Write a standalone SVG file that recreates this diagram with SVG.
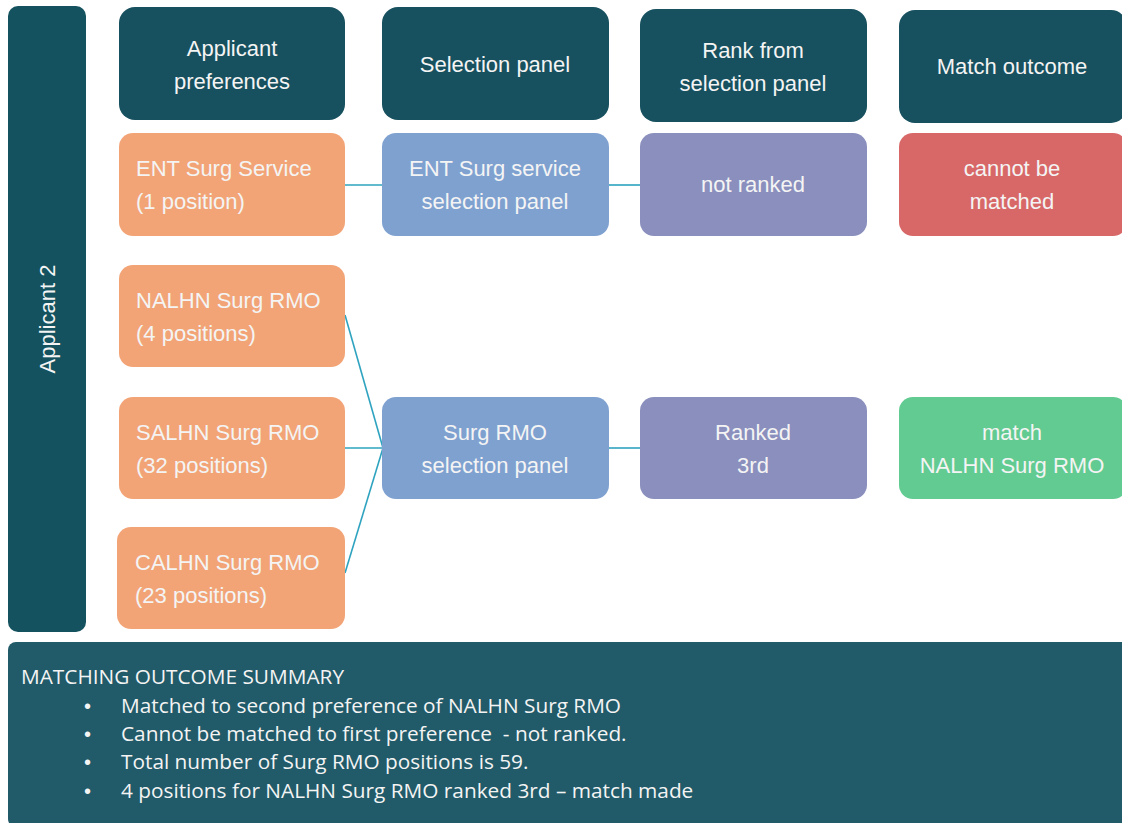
<svg xmlns="http://www.w3.org/2000/svg" width="1122" height="823" viewBox="0 0 1122 823">
<style>
text{font-family:"Liberation Sans","DejaVu Sans",sans-serif;fill:#f4f4f4;font-size:22px}
.c{text-anchor:middle}
.hdr{fill:#17505e}
.org{fill:#f2a477}
.blu{fill:#7fa1d0}
.pur{fill:#8a8fbd}
.red{fill:#d86868}
.grn{fill:#62cb91}
.sum{font-family:"Open Sans","Liberation Sans",sans-serif;font-size:20.8px}
.bul{font-family:"Liberation Sans",sans-serif;font-size:20px}
.conn line{stroke:#2ea3bf;stroke-width:1.6}
</style>
<rect width="1122" height="823" fill="#ffffff"/>
<g id="applicant2">
<rect x="8" y="6" width="78" height="626" rx="10" fill="#13525e"/>
<text transform="translate(55,319) rotate(-90)" class="c">Applicant 2</text>
</g>
<g class="conn" id="connectors">
<line x1="345" y1="185" x2="382" y2="185"/>
<line x1="609" y1="185" x2="640" y2="185"/>
<line x1="345" y1="315" x2="383" y2="448"/>
<line x1="345" y1="448" x2="383" y2="448"/>
<line x1="345" y1="573" x2="383" y2="448"/>
<line x1="609" y1="448" x2="640" y2="448"/>
</g>
<g id="h1"><rect class="hdr" x="119" y="7" width="226" height="113" rx="16"/>
<text class="c" x="232" y="56">Applicant</text><text class="c" x="232" y="89">preferences</text></g>
<g id="h2"><rect class="hdr" x="382" y="7" width="227" height="113" rx="16"/>
<text class="c" x="495" y="72">Selection panel</text></g>
<g id="h3"><rect class="hdr" x="640" y="9" width="227" height="113" rx="16"/>
<text class="c" x="753" y="58">Rank from</text><text class="c" x="753" y="91">selection panel</text></g>
<g id="h4"><rect class="hdr" x="899" y="10" width="228" height="113" rx="16"/>
<text class="c" x="1012" y="74">Match outcome</text></g>
<g id="ent"><rect class="org" x="119" y="133" width="226" height="103" rx="14"/>
<text x="136" y="176">ENT Surg Service</text><text x="136" y="209">(1 position)</text></g>
<g id="entpanel"><rect class="blu" x="382" y="133" width="227" height="103" rx="14"/>
<text class="c" x="495" y="176">ENT Surg service</text><text class="c" x="495" y="209">selection panel</text></g>
<g id="notranked"><rect class="pur" x="640" y="133" width="227" height="103" rx="14"/>
<text class="c" x="753" y="192">not ranked</text></g>
<g id="cannot"><rect class="red" x="899" y="133" width="228" height="103" rx="14"/>
<text class="c" x="1012" y="176">cannot be</text><text class="c" x="1012" y="209">matched</text></g>
<g id="nalhn"><rect class="org" x="119" y="265" width="226" height="102" rx="14"/>
<text x="136" y="308">NALHN Surg RMO</text><text x="136" y="341">(4 positions)</text></g>
<g id="salhn"><rect class="org" x="119" y="397" width="226" height="102" rx="14"/>
<text x="136" y="440">SALHN Surg RMO</text><text x="136" y="473">(32 positions)</text></g>
<g id="calhn"><rect class="org" x="117" y="527" width="228" height="102" rx="14"/>
<text x="135" y="570">CALHN Surg RMO</text><text x="135" y="603">(23 positions)</text></g>
<g id="rmopanel"><rect class="blu" x="382" y="397" width="227" height="102" rx="14"/>
<text class="c" x="495" y="440">Surg RMO</text><text class="c" x="495" y="473">selection panel</text></g>
<g id="ranked"><rect class="pur" x="640" y="397" width="227" height="102" rx="14"/>
<text class="c" x="753" y="440">Ranked</text><text class="c" x="753" y="473">3rd</text></g>
<g id="match"><rect class="grn" x="899" y="397" width="228" height="102" rx="14"/>
<text class="c" x="1012" y="440">match</text><text class="c" x="1012" y="473">NALHN Surg RMO</text></g>
<g id="summary">
<rect x="8" y="642" width="1122" height="185" rx="8" fill="#215a68"/>
<text class="sum" x="21" y="684">MATCHING OUTCOME SUMMARY</text>
<text class="bul" x="84" y="713">•</text><text class="sum" x="121" y="713">Matched to second preference of NALHN Surg RMO</text>
<text class="bul" x="84" y="741">•</text><text class="sum" x="121" y="741" xml:space="preserve">Cannot be matched to first preference  - not ranked.</text>
<text class="bul" x="84" y="769">•</text><text class="sum" x="121" y="769">Total number of Surg RMO positions is 59.</text>
<text class="bul" x="84" y="798">•</text><text class="sum" x="121" y="798">4 positions for NALHN Surg RMO ranked 3rd – match made</text>
</g>
</svg>
